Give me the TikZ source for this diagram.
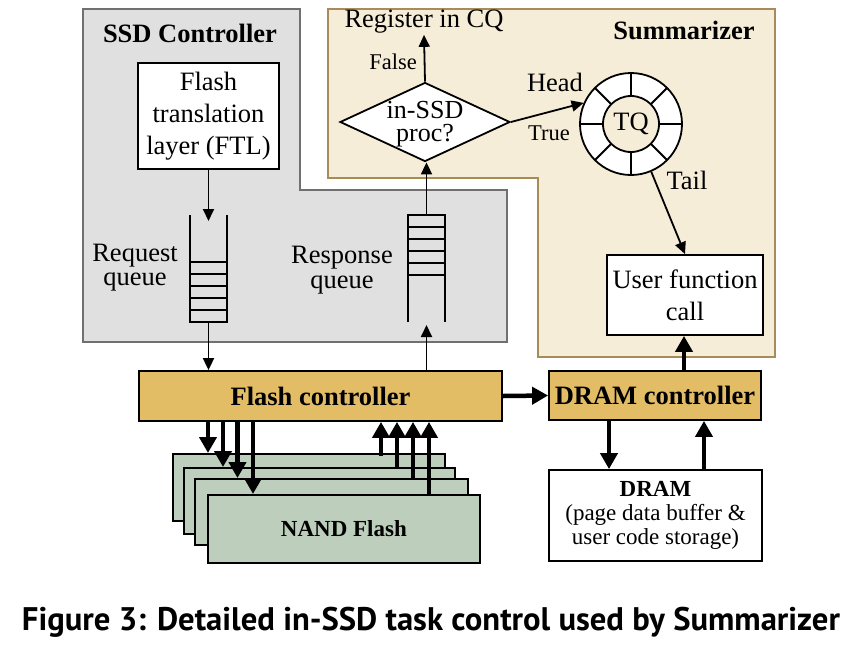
\documentclass[tikz,border=0pt]{standalone}
\usepackage{fontspec}
\usepackage{graphicx}
\setmainfont{Liberation Serif}
\newfontfamily\capfont{PT Sans}
\usetikzlibrary{arrows.meta,shapes.geometric,calc}
\definecolor{ssdfill}{HTML}{E0E0E0}
\definecolor{ssdline}{HTML}{707070}
\definecolor{sumfill}{HTML}{F6EDD8}
\definecolor{sumline}{HTML}{A88C58}
\definecolor{goldfill}{HTML}{E3BD66}
\definecolor{nandfill}{HTML}{BDCFBC}
\begin{document}
\begin{tikzpicture}[x=1pt,y=-1pt,
  bigtext/.style={font=\fontsize{26.5}{32}\selectfont},
  lbltext/.style={font=\fontsize{22.5}{26}\selectfont},
  boxnode/.style={draw, line width=1.8pt, inner sep=0pt, align=center},
  thinarrow/.style={line width=1.8pt, -{Triangle[length=12pt,width=11pt]}},
  fatarrow/.style={line width=4.5pt, -{Triangle[length=16pt,width=17pt]}},
  qline/.style={line width=1.8pt},
]
\useasboundingbox (0,0) rectangle (860,657);
\fill[white] (0,0) rectangle (860,657);

% regions
\draw[line width=2.5pt, sumline, fill=sumfill] (328,9) -- (775,9) -- (775,357) -- (538,357) -- (538,178) -- (328,178) -- cycle;
\draw[line width=2.5pt, ssdline, fill=ssdfill] (83,9) -- (300,9) -- (300,190) -- (507,190) -- (507,342) -- (83,342) -- cycle;

\node[bigtext, font=\fontsize{26.5}{32}\selectfont\bfseries] (ssdt) at (190,33) {SSD Controller};
\node[bigtext, font=\fontsize{26.5}{32}\selectfont\bfseries] (sumt) at (684,30) {Summarizer};

% FTL
\node[boxnode, bigtext, fill=white, minimum width=141pt, minimum height=106pt] (ftl) at (208.5,116) {Flash\\translation\\layer (FTL)};

% request queue
\draw[qline] (190,215) -- (190,322) -- (227,322) -- (227,215);
\foreach \yy in {262,274,286,298,310} \draw[qline] (190,\yy) -- (227,\yy);
\coordinate (rqin) at (208.5,221);
\coordinate (rqout) at (208.5,322);
\node[align=center, font=\fontsize{26.5}{24}\selectfont] (rqt) at (135,268) {Request\\queue};

% response queue
\draw[qline] (408,322) -- (408,215) -- (445,215) -- (445,322);
\foreach \yy in {227,239,251,263,275} \draw[qline] (408,\yy) -- (445,\yy);
\coordinate (spin) at (426.5,325);
\coordinate (spout) at (426.5,215);
\node[align=center, font=\fontsize{26.5}{25}\selectfont] (spt) at (342,270) {Response\\queue};

% diamond
\node[diamond, draw, line width=1.8pt, fill=white, minimum width=170pt, minimum height=79pt, inner sep=0pt] (dia) at (425,122) {};
\node[align=center, font=\fontsize{26}{23}\selectfont] (diat) at (425,124) {in-SSD\\proc?};
\node[bigtext, inner sep=1pt] (reg) at (424,22) {Register in CQ};
\node[lbltext] (falset) at (393,62) {False};

% TQ ring
\node[circle, draw, line width=1.8pt, fill=white, minimum size=102pt, inner sep=0pt] (tq) at (631,124) {};
\foreach \a in {0,45,...,315} \draw[line width=1.8pt] (tq.center) ++(\a:28) -- ++(\a:23);
\node[circle, draw, line width=1.8pt, fill=sumfill, minimum size=56pt, inner sep=0pt, bigtext] (tqin) at (tq) {TQ};
\node[bigtext] (headt) at (555,82) {Head};
\node[lbltext] (truet) at (549,133) {True};
\node[bigtext] (tailt) at (687,180) {Tail};

% user function call
\node[boxnode, bigtext, fill=white, minimum width=156pt, minimum height=80pt] (ufc) at (685,295) {User function\\call};

% controllers
\node[boxnode, fill=goldfill, minimum width=363pt, minimum height=50pt, font=\fontsize{26.5}{32}\selectfont\bfseries] (fc) at (320.5,396) {Flash controller};
\node[boxnode, fill=goldfill, minimum width=212pt, minimum height=49pt, font=\fontsize{26.5}{32}\selectfont\bfseries] (dc) at (655,395.5) {DRAM controller};
\node[boxnode, fill=white, minimum width=213pt, minimum height=91pt, font=\fontsize{23}{24}\selectfont] (dram) at (655.5,515.5) {\textbf{DRAM}\\(page data buffer \&\\user code storage)};

% NAND stacks
\node[boxnode, fill=nandfill, minimum width=272pt, minimum height=67pt, anchor=north west] (n1) at (172,453) {};
\node[boxnode, fill=nandfill, minimum width=271pt, minimum height=66pt, anchor=north west] (n2) at (183,467) {};
\node[boxnode, fill=nandfill, minimum width=273pt, minimum height=66pt, anchor=north west] (n3) at (194,478) {};
\node[boxnode, fill=nandfill, minimum width=272pt, minimum height=68pt, anchor=north west, font=\fontsize{23}{24}\selectfont\bfseries] (n4) at (207,494) {NAND Flash};

% x positions for bus arrows
\coordinate (d1) at (208,0);
\coordinate (d2) at (223,0);
\coordinate (d3) at (237.5,0);
\coordinate (d4) at (253,0);
\coordinate (u1) at (381,0);
\coordinate (u2) at (397,0);
\coordinate (u3) at (413,0);
\coordinate (u4) at (429,0);
\coordinate (dd) at (609,0);
\coordinate (du) at (704,0);
\coordinate (dt) at (684,0);

% connectors
\draw[thinarrow] (ftl.south -| rqin) -- (rqin);
\draw[thinarrow] (rqout) -- (fc.north -| rqout);
\draw[thinarrow] (fc.north -| spin) -- (spin);
\draw[thinarrow] (spout) -- (dia.south -| spout);
\draw[thinarrow] (dia.north) -- (reg.south);
\draw[thinarrow] (dia.east) -- (tq.156);
\draw[thinarrow] (tq.-67) -- (ufc.north);

\draw[fatarrow] (fc.south -| d1) -- (n1.north -| d1);
\draw[fatarrow] (fc.south -| d2) -- (n2.north -| d2);
\draw[fatarrow] (fc.south -| d3) -- (n3.north -| d3);
\draw[fatarrow] (fc.south -| d4) -- (n4.north -| d4);
\draw[fatarrow] ([yshift=-3pt]n1.north -| u1) -- (fc.south -| u1);
\draw[fatarrow] (n2.north -| u2) -- (fc.south -| u2);
\draw[fatarrow] (n3.north -| u3) -- (fc.south -| u3);
\draw[fatarrow] (n4.north -| u4) -- (fc.south -| u4);

\draw[fatarrow] (fc.east) -- (dc.west);
\draw[fatarrow] (dc.north -| dt) -- (ufc.south -| dt);
\draw[fatarrow] (dc.south -| dd) -- (dram.north -| dd);
\draw[fatarrow] (dram.north -| du) -- (dc.south -| du);

% caption
\node (cap) at (431,622) {\resizebox{818pt}{!}{\capfont\bfseries Figure 3: Detailed in-SSD task control used by Summarizer}};
\end{tikzpicture}
\end{document}
